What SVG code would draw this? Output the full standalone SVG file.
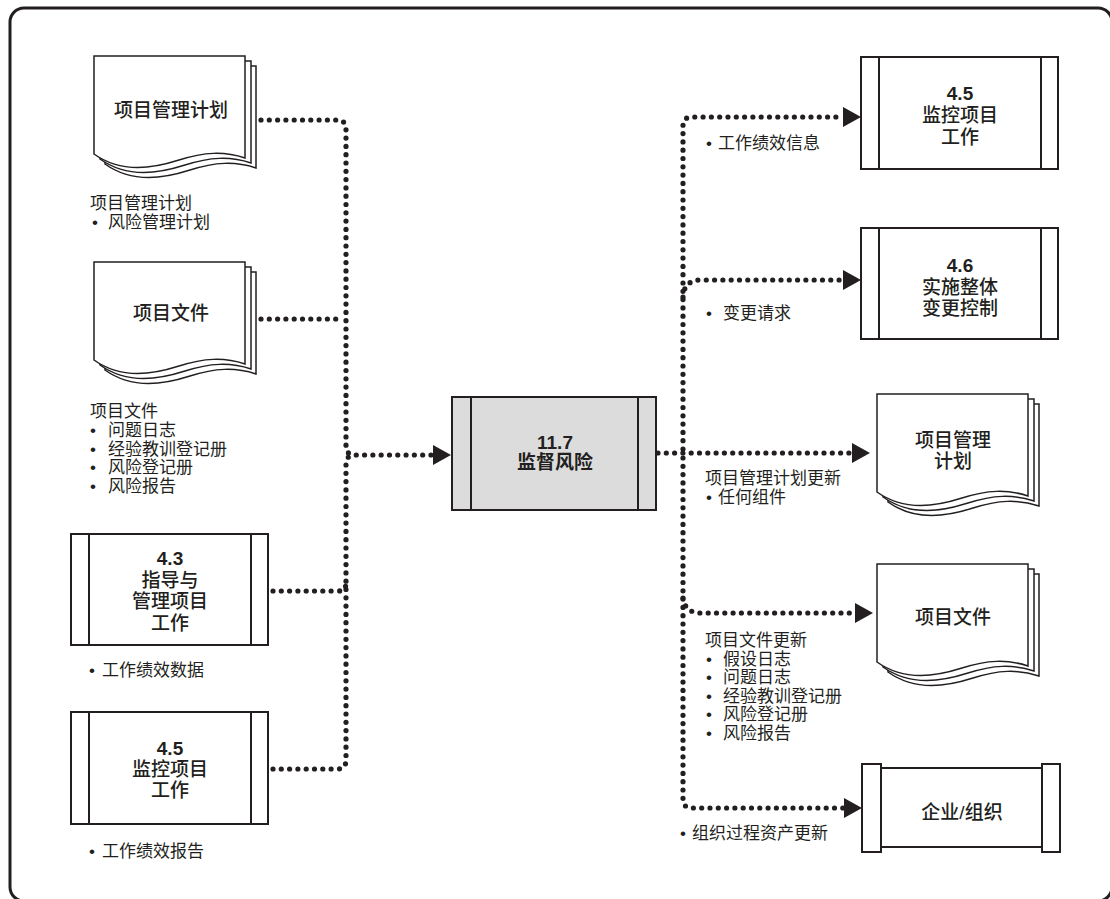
<svg xmlns="http://www.w3.org/2000/svg" xmlns:xlink="http://www.w3.org/1999/xlink" width="1110" height="899" viewBox="0 0 1110 899">
<style>
.frame{fill:none;stroke:#231f20;stroke-width:3}
.box{fill:#ffffff;stroke:#231f20;stroke-width:2}
.boxg{fill:#dcdcdd;stroke:#231f20;stroke-width:2}
.bar{stroke:#231f20;stroke-width:2}
.page{fill:#ffffff;stroke:#231f20;stroke-width:1.5;stroke-linejoin:miter}
.dot{fill:none;stroke:#231f20;stroke-width:5.2;stroke-linecap:round;stroke-dasharray:0 8.3}
.lbl{font-family:"Liberation Sans","Noto Sans CJK SC",sans-serif;font-size:19px;font-weight:500;fill:#231f20;text-anchor:middle}
.num{font-weight:bold}
.ann{font-family:"Liberation Sans","Noto Sans CJK SC",sans-serif;font-size:17px;fill:#231f20}
</style>
<defs>
<path id="pg" d="M0,0 H151 V102 C130,95 110,96 85,104 C60,112 28,118 0,98 Z"/>
<marker id="arr" markerUnits="userSpaceOnUse" markerWidth="18" markerHeight="20" viewBox="0 0 18 20" refX="0" refY="10" orient="auto">
<path d="M0,0 L18,10 L0,20 Z" fill="#231f20"/>
</marker>
</defs>
<rect class="frame" x="10" y="8" width="1102" height="893" rx="14"/>

<g id="connectors">
<path class="dot" d="M261,120 H337 Q346,120 346,129 V446 Q346,455 355,455 H433" marker-end="url(#arr)"/>
<path class="dot" d="M261,319 H342"/>
<path class="dot" d="M273,591 H338 Q346,591 346,583"/>
<path class="dot" d="M273,769 H337 Q346,769 346,760 V464 Q346,455 355,455"/>
<path class="dot" d="M658,453 H852" marker-end="url(#arr)"/>
<path class="dot" d="M683,449 V126 Q683,117 692,117 H843" marker-end="url(#arr)"/>
<path class="dot" d="M683,297 Q684,281 699,280 H843" marker-end="url(#arr)"/>
<path class="dot" d="M683,458 V799 Q683,808 692,808 H844" marker-end="url(#arr)"/>
<path class="dot" d="M683,598 Q685,612 699,613 H855" marker-end="url(#arr)"/>
</g>

<g id="n-pmplan-in">
<use xlink:href="#pg" class="page" transform="translate(105,66)"/>
<use xlink:href="#pg" class="page" transform="translate(100,61)"/>
<use xlink:href="#pg" class="page" transform="translate(94,56)"/>
<text class="lbl" x="171" y="117">项目管理计划</text>
</g>
<g id="t-pmplan-in">
<text class="ann" x="90" y="209">项目管理计划</text>
<text class="ann" y="228"><tspan x="92">•</tspan><tspan x="108">风险管理计划</tspan></text>
</g>

<g id="n-pdocs-in">
<use xlink:href="#pg" class="page" transform="translate(105,272)"/>
<use xlink:href="#pg" class="page" transform="translate(100,267)"/>
<use xlink:href="#pg" class="page" transform="translate(94,262)"/>
<text class="lbl" x="171" y="320">项目文件</text>
</g>
<g id="t-pdocs-in">
<text class="ann" x="90" y="417">项目文件</text>
<text class="ann" y="436"><tspan x="90">•</tspan><tspan x="108">问题日志</tspan></text>
<text class="ann" y="454.5"><tspan x="90">•</tspan><tspan x="108">经验教训登记册</tspan></text>
<text class="ann" y="473"><tspan x="90">•</tspan><tspan x="108">风险登记册</tspan></text>
<text class="ann" y="492"><tspan x="90">•</tspan><tspan x="108">风险报告</tspan></text>
</g>

<g id="n-43">
<rect class="box" x="71" y="534" width="197" height="111"/>
<line class="bar" x1="89" y1="534" x2="89" y2="645"/>
<line class="bar" x1="251" y1="534" x2="251" y2="645"/>
<text class="lbl num" x="170" y="565">4.3</text>
<text class="lbl" x="170" y="586.5">指导与</text>
<text class="lbl" x="170" y="608">管理项目</text>
<text class="lbl" x="170" y="629.5">工作</text>
</g>
<text class="ann" y="676"><tspan x="89">•</tspan><tspan x="102">工作绩效数据</tspan></text>

<g id="n-45-in">
<rect class="box" x="71" y="712" width="197" height="112"/>
<line class="bar" x1="89" y1="712" x2="89" y2="824"/>
<line class="bar" x1="251" y1="712" x2="251" y2="824"/>
<text class="lbl num" x="170" y="755">4.5</text>
<text class="lbl" x="170" y="776">监控项目</text>
<text class="lbl" x="170" y="797">工作</text>
</g>
<text class="ann" y="857"><tspan x="89">•</tspan><tspan x="102">工作绩效报告</tspan></text>

<g id="n-117">
<rect class="boxg" x="452" y="397" width="204" height="113"/>
<line class="bar" x1="471" y1="397" x2="471" y2="510"/>
<line class="bar" x1="638" y1="397" x2="638" y2="510"/>
<text class="lbl num" x="555" y="449">11.7</text>
<text class="lbl num" x="555" y="469">监督风险</text>
</g>

<g id="n-45-out">
<rect class="box" x="861" y="57" width="197" height="112"/>
<line class="bar" x1="879" y1="57" x2="879" y2="169"/>
<line class="bar" x1="1041" y1="57" x2="1041" y2="169"/>
<text class="lbl num" x="960" y="100">4.5</text>
<text class="lbl" x="960" y="122">监控项目</text>
<text class="lbl" x="960" y="144">工作</text>
</g>
<text class="ann" y="149"><tspan x="706">•</tspan><tspan x="718">工作绩效信息</tspan></text>

<g id="n-46">
<rect class="box" x="861" y="228" width="197" height="111"/>
<line class="bar" x1="879" y1="228" x2="879" y2="339"/>
<line class="bar" x1="1041" y1="228" x2="1041" y2="339"/>
<text class="lbl num" x="960" y="272">4.6</text>
<text class="lbl" x="960" y="294">实施整体</text>
<text class="lbl" x="960" y="315">变更控制</text>
</g>
<text class="ann" y="319"><tspan x="706">•</tspan><tspan x="723">变更请求</tspan></text>

<g id="n-pmplan-out">
<use xlink:href="#pg" class="page" transform="translate(888,404)"/>
<use xlink:href="#pg" class="page" transform="translate(883,399)"/>
<use xlink:href="#pg" class="page" transform="translate(877,394)"/>
<text class="lbl" x="953" y="447">项目管理</text>
<text class="lbl" x="953" y="468">计划</text>
</g>
<g id="t-pmplan-out">
<text class="ann" x="705" y="484">项目管理计划更新</text>
<text class="ann" y="503"><tspan x="706">•</tspan><tspan x="718">任何组件</tspan></text>
</g>

<g id="n-pdocs-out">
<use xlink:href="#pg" class="page" transform="translate(888,574)"/>
<use xlink:href="#pg" class="page" transform="translate(883,569)"/>
<use xlink:href="#pg" class="page" transform="translate(877,564)"/>
<text class="lbl" x="953" y="624">项目文件</text>
</g>
<g id="t-pdocs-out">
<text class="ann" x="705" y="646">项目文件更新</text>
<text class="ann" y="664.6"><tspan x="706">•</tspan><tspan x="723">假设日志</tspan></text>
<text class="ann" y="683.2"><tspan x="706">•</tspan><tspan x="723">问题日志</tspan></text>
<text class="ann" y="701.8"><tspan x="706">•</tspan><tspan x="723">经验教训登记册</tspan></text>
<text class="ann" y="720.4"><tspan x="706">•</tspan><tspan x="723">风险登记册</tspan></text>
<text class="ann" y="739"><tspan x="706">•</tspan><tspan x="723">风险报告</tspan></text>
</g>

<g id="n-ent">
<rect class="box" x="881" y="768" width="161" height="79"/>
<rect class="box" x="862" y="764" width="19" height="88"/>
<rect class="box" x="1042" y="764" width="18" height="88"/>
<text class="lbl" x="962" y="819">企业/组织</text>
</g>
<text class="ann" y="839"><tspan x="680">•</tspan><tspan x="692">组织过程资产更新</tspan></text>
</svg>
